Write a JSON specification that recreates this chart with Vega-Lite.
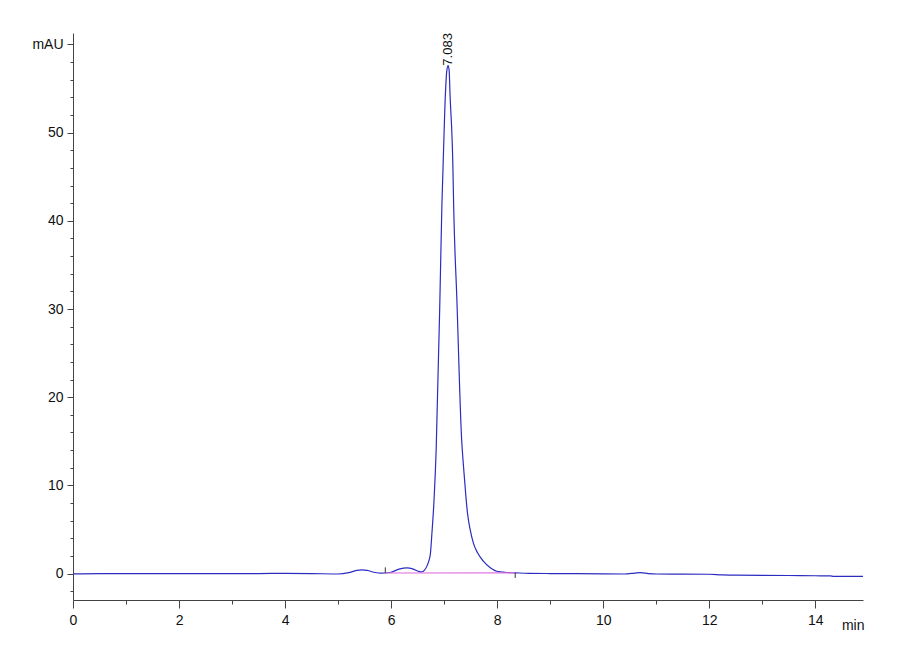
{
  "$schema": "https://vega.github.io/schema/vega-lite/v6.json",
  "width": 790,
  "height": 567,
  "autosize": {"type": "none"},
  "padding": {"left": 73, "top": 33, "right": 37, "bottom": 60},
  "background": "white",
  "config": {
    "view": {"stroke": null},
    "font": "Liberation Sans Narrow, Arial Narrow, Liberation Sans, Arial"
  },
  "datasets": {
    "trace": [
      {"t": 0, "y": -0.03}, {"t": 0.5, "y": 0}, {"t": 1.5, "y": 0}, {"t": 2.5, "y": 0},
      {"t": 3.5, "y": 0}, {"t": 4.0, "y": 0.02}, {"t": 4.5, "y": 0}, {"t": 5.0, "y": -0.05},
      {"t": 5.2, "y": 0.1}, {"t": 5.35, "y": 0.35}, {"t": 5.45, "y": 0.42}, {"t": 5.55, "y": 0.35},
      {"t": 5.7, "y": 0.12}, {"t": 5.8, "y": 0.05}, {"t": 5.89, "y": 0.06}, {"t": 6.0, "y": 0.15},
      {"t": 6.15, "y": 0.5}, {"t": 6.3, "y": 0.65}, {"t": 6.42, "y": 0.5}, {"t": 6.52, "y": 0.25},
      {"t": 6.58, "y": 0.19}, {"t": 6.63, "y": 0.4}, {"t": 6.68, "y": 0.9}, {"t": 6.72, "y": 1.6},
      {"t": 6.74, "y": 2.2}, {"t": 6.77, "y": 4.6}, {"t": 6.81, "y": 8.4}, {"t": 6.85, "y": 14.1},
      {"t": 6.92, "y": 31.1}, {"t": 6.957, "y": 41.6}, {"t": 6.98, "y": 46.2}, {"t": 7.025, "y": 54.5},
      {"t": 7.05, "y": 57.0}, {"t": 7.075, "y": 57.6}, {"t": 7.095, "y": 57.0}, {"t": 7.11, "y": 54.5},
      {"t": 7.165, "y": 46.2}, {"t": 7.18, "y": 41.6}, {"t": 7.24, "y": 31.1}, {"t": 7.33, "y": 15.2},
      {"t": 7.36, "y": 12.55}, {"t": 7.41, "y": 8.77}, {"t": 7.44, "y": 6.88}, {"t": 7.49, "y": 5.0},
      {"t": 7.55, "y": 3.48}, {"t": 7.63, "y": 2.35}, {"t": 7.74, "y": 1.4}, {"t": 7.87, "y": 0.65},
      {"t": 7.99, "y": 0.26}, {"t": 8.18, "y": 0.12}, {"t": 8.34, "y": 0.08},
      {"t": 8.6, "y": 0.02}, {"t": 9.0, "y": 0}, {"t": 9.5, "y": -0.02}, {"t": 10.0, "y": -0.03},
      {"t": 10.4, "y": -0.05}, {"t": 10.6, "y": 0.05}, {"t": 10.7, "y": 0.1}, {"t": 10.85, "y": 0.0},
      {"t": 11.0, "y": -0.05}, {"t": 11.5, "y": -0.06}, {"t": 12.0, "y": -0.08}, {"t": 12.24, "y": -0.15},
      {"t": 12.5, "y": -0.19}, {"t": 13.0, "y": -0.2}, {"t": 13.5, "y": -0.22}, {"t": 14.0, "y": -0.25},
      {"t": 14.28, "y": -0.27}, {"t": 14.35, "y": -0.32}, {"t": 14.9, "y": -0.33}
    ],
    "baseline": [
      {"t": 5.89, "y": 0.06}, {"t": 8.34, "y": 0.08}
    ],
    "markers": [
      {"t": 5.89, "y": 0.06, "y2": 0.7},
      {"t": 8.34, "y": 0.08, "y2": -0.5}
    ],
    "peaks": [
      {"t": 7.075, "y": 57.6, "label": "7.083"}
    ]
  },
  "encoding": {
    "x": {
      "field": "t",
      "type": "quantitative",
      "scale": {"domain": [0, 14.9], "nice": false, "zero": false},
      "axis": {
        "values": [0, 0.5, 1, 1.5, 2, 2.5, 3, 3.5, 4, 4.5, 5, 5.5, 6, 6.5, 7, 7.5, 8, 8.5, 9, 9.5, 10, 10.5, 11, 11.5, 12, 12.5, 13, 13.5, 14, 14.5],
        "format": "d",
        "labelExpr": "datum.value % 2 === 0 ? datum.label : ''",
        "tickSize": {"condition": {"test": "datum.value % 2 === 0", "value": 8}, "value": 4},
        "grid": false,
        "labelFlush": false,
        "labelOverlap": false,
        "labelFontSize": 14,
        "labelColor": "#111",
        "labelPadding": 5,
        "domainColor": "#444",
        "tickColor": "#444",
        "title": "min",
        "titleFontWeight": "normal",
        "titleFontSize": 14,
        "titleColor": "#111",
        "titleAnchor": "end",
        "titleAlign": "right",
        "titleBaseline": "alphabetic",
        "titleX": 791,
        "titleY": 29
      }
    },
    "y": {
      "field": "y",
      "type": "quantitative",
      "scale": {"domain": [-3, 61.3], "nice": false, "zero": false},
      "axis": {
        "values": [-2, 0, 2, 4, 6, 8, 10, 12, 14, 16, 18, 20, 22, 24, 26, 28, 30, 32, 34, 36, 38, 40, 42, 44, 46, 48, 50, 52, 54, 56, 58, 60],
        "labelExpr": "datum.value === 60 ? 'mAU' : (datum.value % 10 === 0 ? datum.label : '')",
        "tickSize": {"condition": {"test": "datum.value % 10 === 0", "value": 6}, "value": 3},
        "grid": false,
        "labelOverlap": false,
        "labelFlush": false,
        "labelFontSize": 14,
        "labelColor": "#111",
        "labelPadding": 4,
        "domainColor": "#444",
        "tickColor": "#444",
        "title": null
      }
    }
  },
  "layer": [
    {
      "data": {"name": "trace"},
      "mark": {"type": "line", "color": "#2c2cc0", "strokeWidth": 1.2, "interpolate": "monotone"}
    },
    {
      "data": {"name": "baseline"},
      "mark": {"type": "line", "color": "#e070e0", "strokeWidth": 1.2}
    },
    {
      "data": {"name": "markers"},
      "mark": {"type": "rule", "color": "#333", "strokeWidth": 1},
      "encoding": {"y2": {"field": "y2"}}
    },
    {
      "data": {"name": "peaks"},
      "mark": {"type": "text", "angle": 270, "align": "left", "baseline": "middle", "fontSize": 13, "color": "#111"},
      "encoding": {"text": {"field": "label"}}
    }
  ]
}
